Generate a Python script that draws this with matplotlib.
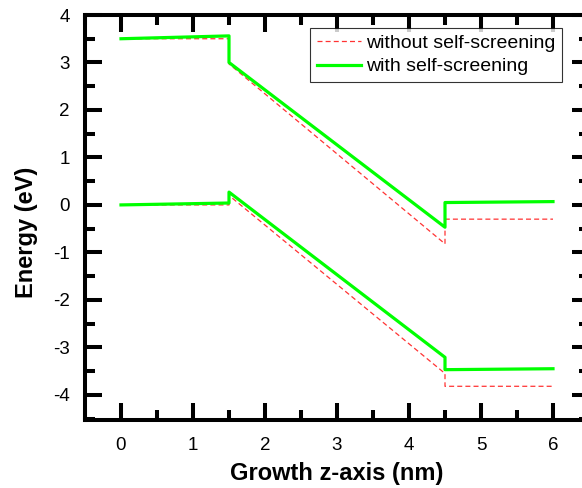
import matplotlib
matplotlib.use("Agg")
import matplotlib.pyplot as plt
from matplotlib.ticker import MultipleLocator

plt.rcParams['font.family'] = ['Liberation Sans', 'DejaVu Sans']
plt.rcParams['axes.unicode_minus'] = False

# band edges: conduction (upper) and valence (lower)
x_pts = [0.0, 1.5, 1.5, 4.5, 4.5, 6.0]

cb_without = [3.5, 3.5, 2.97, -0.82, -0.30, -0.30]
vb_without = [0.0, 0.0, 0.20, -3.55, -3.82, -3.82]

cb_with = [3.5, 3.56, 3.0, -0.47, 0.05, 0.07]
vb_with = [0.0, 0.04, 0.27, -3.21, -3.47, -3.45]

fig = plt.figure(figsize=(5.82, 4.88), dpi=100)
ax = fig.add_axes([85 / 582, 68 / 488, 504 / 582, 405 / 488])

red = '#ff3333'
green = '#00ff00'
ax.plot(x_pts, cb_without, '--', color=red, lw=0.9, dashes=(4, 2.5), label='without self-screening')
ax.plot(x_pts, vb_without, '--', color=red, lw=0.9, dashes=(4, 2.5))
ax.plot(x_pts, cb_with, '-', color=green, lw=2.3, label='with self-screening')
ax.plot(x_pts, vb_with, '-', color=green, lw=2.3)

ax.set_xlim(-0.5, 6.5)
ax.set_ylim(-4.53, 4.0)
ax.xaxis.set_major_locator(MultipleLocator(1))
ax.xaxis.set_minor_locator(MultipleLocator(0.5))
ax.yaxis.set_major_locator(MultipleLocator(1))
ax.yaxis.set_minor_locator(MultipleLocator(0.5))

for s in ax.spines.values():
    s.set_linewidth(2.9)
ax.tick_params(which='both', direction='in', top=True, right=True, width=2.9, labelsize=13.5)
ax.tick_params(axis='x', which='both', pad=12)
ax.tick_params(axis='y', which='both', pad=11)
ax.tick_params(which='major', length=12)
ax.tick_params(which='minor', length=7)

ax.set_xlabel('Growth z-axis (nm)', fontsize=17, fontweight='bold', labelpad=6)
ax.set_ylabel('Energy (eV)', fontsize=17, fontweight='bold', labelpad=11, y=0.464)

leg = ax.legend(loc='upper right', bbox_to_anchor=(562 / 582, (488 - 28) / 488), bbox_transform=fig.transFigure,
                fontsize=14, frameon=True, fancybox=False, handlelength=2.3, handletextpad=0.25,
                borderpad=0.33, labelspacing=0.3, borderaxespad=0)
leg.get_frame().set_edgecolor('black')
leg.get_frame().set_linewidth(0.8)

fig.savefig('out.png', dpi=100)
